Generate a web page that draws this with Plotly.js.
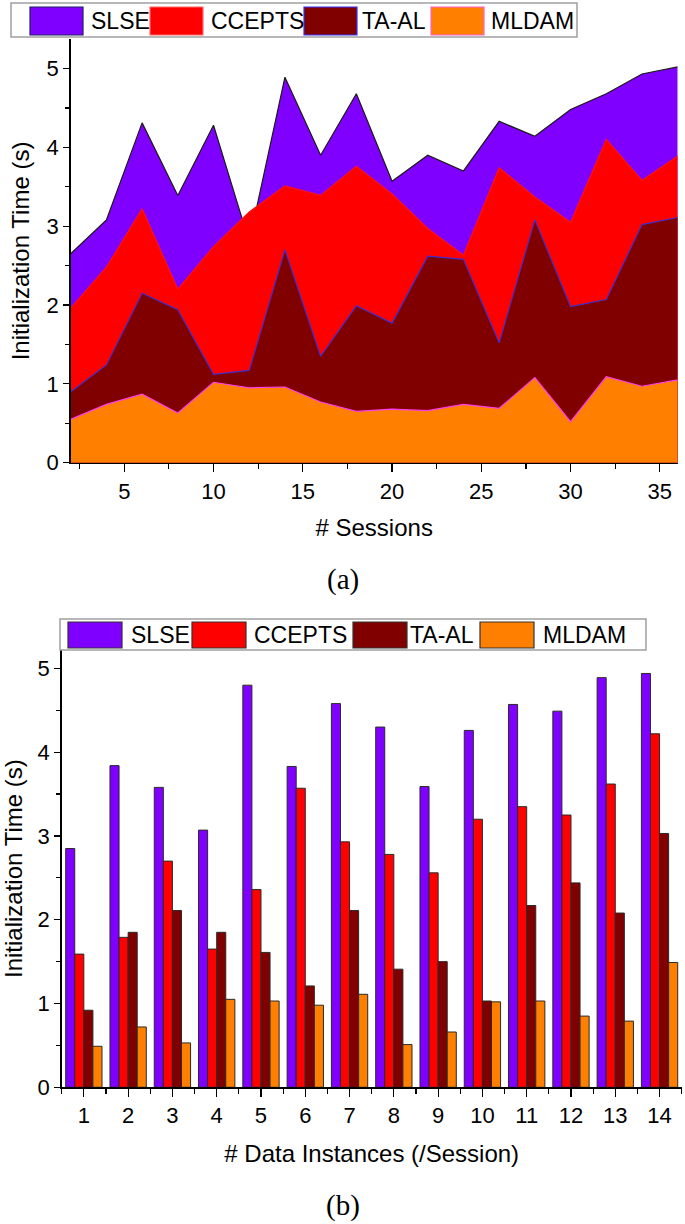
<!DOCTYPE html>
<html>
<head>
<meta charset="utf-8">
<script src="https://cdn.plot.ly/plotly-3.0.1.min.js"></script>
<style>
  html, body { margin: 0; padding: 0; background: #fff; }
  #chart { width: 685px; height: 1224px; }
</style>
</head>
<body>
<div id="chart"></div>
<script>
// series names and colours
const seriesNames = ['SLSE', 'CCEPTS', 'TA-AL', 'MLDAM'];
const fillColors = ['#8000FF', '#FF0000', '#800000', '#FF8000'];
const edgeColors = ['#1a1a1a', '#FF1010', '#3c2fd0', '#ff3cf0'];

// (a) initialization time vs number of sessions
const sessions = [2, 4, 6, 8, 10, 12, 14, 16, 18, 20, 22, 24, 26, 28, 30, 32, 34, 36];
const slseArea   = [2.65, 3.08, 4.31, 3.39, 4.28, 2.80, 4.89, 3.90, 4.68, 3.57, 3.90, 3.70, 4.33, 4.14, 4.48, 4.68, 4.93, 5.02];
const cceptsArea = [1.96, 2.48, 3.22, 2.20, 2.74, 3.18, 3.51, 3.39, 3.76, 3.41, 2.97, 2.63, 3.74, 3.37, 3.05, 4.10, 3.58, 3.89];
const taalArea   = [0.90, 1.24, 2.15, 1.94, 1.12, 1.17, 2.70, 1.35, 1.99, 1.77, 2.62, 2.58, 1.52, 3.08, 1.98, 2.07, 3.02, 3.11];
const mldamArea  = [0.55, 0.74, 0.87, 0.63, 1.02, 0.95, 0.96, 0.77, 0.65, 0.68, 0.66, 0.74, 0.69, 1.08, 0.52, 1.09, 0.97, 1.05];

// (b) initialization time vs data instances per session
const instances = [1, 2, 3, 4, 5, 6, 7, 8, 9, 10, 11, 12, 13, 14];
const slseBar   = [2.85, 3.84, 3.58, 3.07, 4.80, 3.83, 4.58, 4.30, 3.59, 4.26, 4.57, 4.49, 4.89, 4.94];
const cceptsBar = [1.59, 1.79, 2.70, 1.65, 2.36, 3.57, 2.93, 2.78, 2.56, 3.20, 3.35, 3.25, 3.62, 4.22];
const taalBar   = [0.92, 1.85, 2.11, 1.85, 1.61, 1.21, 2.11, 1.41, 1.50, 1.03, 2.17, 2.44, 2.08, 3.03];
const mldamBar  = [0.49, 0.72, 0.53, 1.05, 1.03, 0.98, 1.11, 0.51, 0.66, 1.02, 1.03, 0.85, 0.79, 1.49];

const areaSeries = [slseArea, cceptsArea, taalArea, mldamArea];
const barSeries = [slseBar, cceptsBar, taalBar, mldamBar];

const W = 685, H = 1224;
const fx = p => p / W;
const fy = p => 1 - p / H;
const FONT = 'Liberation Sans, Arial, sans-serif';

const traces = [];
areaSeries.forEach((vals, i) => {
  traces.push({
    x: sessions, y: vals, type: 'scatter', mode: 'lines',
    fill: 'tozeroy', fillcolor: fillColors[i],
    line: { color: edgeColors[i], width: 1.2 },
    name: seriesNames[i], showlegend: false,
    xaxis: 'x', yaxis: 'y'
  });
});
barSeries.forEach((vals, i) => {
  traces.push({
    x: instances, y: vals, type: 'bar',
    marker: { color: fillColors[i], line: { color: '#2a2a2a', width: 1 } },
    name: seriesNames[i], showlegend: false,
    xaxis: 'x2', yaxis: 'y2'
  });
});

const axisBase = {
  showgrid: false, zeroline: false, showline: true,
  linecolor: '#000', linewidth: 1.5,
  ticks: 'outside', tickcolor: '#000', tickwidth: 1.2,
  tickfont: { family: FONT, size: 22, color: '#000' }
};

// legend boxes drawn as shapes + text (px positions)
const legends = [
  { box: [11, 3, 577, 37], sy: [7, 35], sx: [30, 150, 304, 431], sw: 53, tx: [89, 209, 360, 489], ty: 21,
    border: ['#202060', '#ff6a6a', '#3333ff', '#ff5fcf'] },
  { box: [60, 619, 646, 650], sy: [622, 648], sx: [68, 192, 353, 480], sw: 54, tx: [129, 252, 408, 541], ty: 635,
    border: ['#333', '#333', '#333', '#333'] }
];
const shapes = [];
const annotations = [];
legends.forEach(lg => {
  shapes.push({ type: 'rect', xref: 'paper', yref: 'paper',
    x0: fx(lg.box[0]), x1: fx(lg.box[2]), y0: fy(lg.box[3]), y1: fy(lg.box[1]),
    line: { color: '#a0a0a0', width: 1.5 }, fillcolor: '#fff' });
  seriesNames.forEach((n, i) => {
    shapes.push({ type: 'rect', xref: 'paper', yref: 'paper',
      x0: fx(lg.sx[i]), x1: fx(lg.sx[i] + lg.sw), y0: fy(lg.sy[1]), y1: fy(lg.sy[0]),
      line: { color: lg.border[i], width: 1.2 }, fillcolor: fillColors[i] });
    annotations.push({ text: n, xref: 'paper', yref: 'paper',
      x: fx(lg.tx[i]), y: fy(lg.ty), xanchor: 'left', yanchor: 'middle', showarrow: false,
      font: { family: FONT, size: 23, color: '#000' } });
  });
});
annotations.push({ text: '(a)', xref: 'paper', yref: 'paper', x: fx(343), y: fy(579),
  xanchor: 'center', yanchor: 'middle', showarrow: false,
  font: { family: 'Liberation Serif, Times New Roman, serif', size: 29, color: '#000' } });
annotations.push({ text: '(b)', xref: 'paper', yref: 'paper', x: fx(343), y: fy(1205),
  xanchor: 'center', yanchor: 'middle', showarrow: false,
  font: { family: 'Liberation Serif, Times New Roman, serif', size: 29, color: '#000' } });

const layout = {
  width: W, height: H,
  margin: { l: 0, r: 0, t: 0, b: 0 },
  paper_bgcolor: '#fff', plot_bgcolor: 'rgba(0,0,0,0)',
  showlegend: false,
  barmode: 'group', bargap: 0.18, bargroupgap: 0,
  xaxis: Object.assign({}, axisBase, {
    domain: [fx(70.7), fx(677.7)], anchor: 'y',
    range: [2, 36], tick0: 0, dtick: 5, ticklen: 8,
    minor: { dtick: 2.5, tick0: 0, ticks: 'outside', ticklen: 5, tickcolor: '#000', tickwidth: 1.2 },
    title: { text: '# Sessions', font: { family: FONT, size: 24, color: '#000' }, standoff: 16 }
  }),
  yaxis: Object.assign({}, axisBase, {
    domain: [fy(462.7), fy(39.3)], anchor: 'x',
    range: [0, 5.37], tick0: 0, dtick: 1, ticklen: 6,
    minor: { dtick: 0.5, tick0: 0, ticks: 'outside', ticklen: 4, tickcolor: '#000', tickwidth: 1.2 },
    title: { text: 'Initialization Time (s)', font: { family: FONT, size: 24, color: '#000' }, standoff: 10 }
  }),
  xaxis2: Object.assign({}, axisBase, {
    domain: [fx(61.7), fx(681.7)], anchor: 'y2',
    range: [0.5, 14.5], tick0: 0, dtick: 1, ticklen: 8,
    minor: { dtick: 0.5, tick0: 0.5, ticks: 'outside', ticklen: 5, tickcolor: '#000', tickwidth: 1.2 },
    title: { text: '# Data Instances (/Session)', font: { family: FONT, size: 24, color: '#000' }, standoff: 18 }
  }),
  yaxis2: Object.assign({}, axisBase, {
    domain: [fy(1087.3), fy(650)], anchor: 'x2',
    range: [0, 5.22], tick0: 0, dtick: 1, ticklen: 6,
    minor: { dtick: 0.5, tick0: 0, ticks: 'outside', ticklen: 4, tickcolor: '#000', tickwidth: 1.2 },
    title: { text: 'Initialization Time (s)', font: { family: FONT, size: 24, color: '#000' }, standoff: 10 }
  }),
  shapes: shapes,
  annotations: annotations
};

Plotly.newPlot('chart', traces, layout, { displayModeBar: false, staticPlot: true });
</script>
</body>
</html>
